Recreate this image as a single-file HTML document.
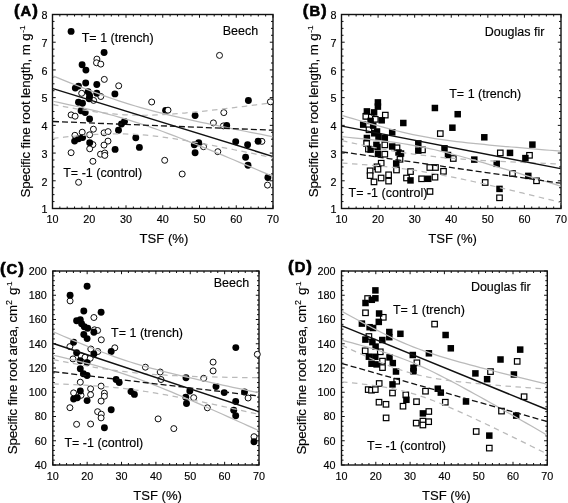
<!DOCTYPE html>
<html><head><meta charset="utf-8"><style>
html,body{margin:0;padding:0;background:#fff;}
svg{display:block;filter:blur(0.3px);}
text{font-family:"Liberation Sans", sans-serif;fill:#000;stroke:#000;stroke-width:0.15px;}
</style></head><body>
<svg width="568" height="503" viewBox="0 0 568 503">
<rect width="568" height="503" fill="#fff"/>
<path d="M52.5 208.5v-3.2M52.5 14.5v3.2M59.85 208.5v-2M59.85 14.5v2M67.2 208.5v-2M67.2 14.5v2M74.55 208.5v-2M74.55 14.5v2M81.9 208.5v-2M81.9 14.5v2M89.25 208.5v-3.2M89.25 14.5v3.2M96.6 208.5v-2M96.6 14.5v2M103.95 208.5v-2M103.95 14.5v2M111.3 208.5v-2M111.3 14.5v2M118.65 208.5v-2M118.65 14.5v2M126 208.5v-3.2M126 14.5v3.2M133.35 208.5v-2M133.35 14.5v2M140.7 208.5v-2M140.7 14.5v2M148.05 208.5v-2M148.05 14.5v2M155.4 208.5v-2M155.4 14.5v2M162.75 208.5v-3.2M162.75 14.5v3.2M170.1 208.5v-2M170.1 14.5v2M177.45 208.5v-2M177.45 14.5v2M184.8 208.5v-2M184.8 14.5v2M192.15 208.5v-2M192.15 14.5v2M199.5 208.5v-3.2M199.5 14.5v3.2M206.85 208.5v-2M206.85 14.5v2M214.2 208.5v-2M214.2 14.5v2M221.55 208.5v-2M221.55 14.5v2M228.9 208.5v-2M228.9 14.5v2M236.25 208.5v-3.2M236.25 14.5v3.2M243.6 208.5v-2M243.6 14.5v2M250.95 208.5v-2M250.95 14.5v2M258.3 208.5v-2M258.3 14.5v2M265.65 208.5v-2M265.65 14.5v2M273 208.5v-3.2M273 14.5v3.2M52.5 208.5h3.2M273 208.5h-3.2M52.5 201.57h2M273 201.57h-2M52.5 194.64h2M273 194.64h-2M52.5 187.71h2M273 187.71h-2M52.5 180.79h3.2M273 180.79h-3.2M52.5 173.86h2M273 173.86h-2M52.5 166.93h2M273 166.93h-2M52.5 160h2M273 160h-2M52.5 153.07h3.2M273 153.07h-3.2M52.5 146.14h2M273 146.14h-2M52.5 139.21h2M273 139.21h-2M52.5 132.29h2M273 132.29h-2M52.5 125.36h3.2M273 125.36h-3.2M52.5 118.43h2M273 118.43h-2M52.5 111.5h2M273 111.5h-2M52.5 104.57h2M273 104.57h-2M52.5 97.64h3.2M273 97.64h-3.2M52.5 90.71h2M273 90.71h-2M52.5 83.79h2M273 83.79h-2M52.5 76.86h2M273 76.86h-2M52.5 69.93h3.2M273 69.93h-3.2M52.5 63h2M273 63h-2M52.5 56.07h2M273 56.07h-2M52.5 49.14h2M273 49.14h-2M52.5 42.21h3.2M273 42.21h-3.2M52.5 35.29h2M273 35.29h-2M52.5 28.36h2M273 28.36h-2M52.5 21.43h2M273 21.43h-2M52.5 14.5h3.2M273 14.5h-3.2" stroke="#111" stroke-width="1" fill="none"/>
<rect x="52.5" y="14.5" width="220.5" height="194" fill="none" stroke="#111" stroke-width="1.4"/>
<text x="52.5" y="223.1" font-size="10.8" text-anchor="middle">10</text>
<text x="89.25" y="223.1" font-size="10.8" text-anchor="middle">20</text>
<text x="126" y="223.1" font-size="10.8" text-anchor="middle">30</text>
<text x="162.75" y="223.1" font-size="10.8" text-anchor="middle">40</text>
<text x="199.5" y="223.1" font-size="10.8" text-anchor="middle">50</text>
<text x="236.25" y="223.1" font-size="10.8" text-anchor="middle">60</text>
<text x="273" y="223.1" font-size="10.8" text-anchor="middle">70</text>
<text x="47.4" y="213.3" font-size="10.8" text-anchor="end">1</text>
<text x="47.4" y="185.59" font-size="10.8" text-anchor="end">2</text>
<text x="47.4" y="157.87" font-size="10.8" text-anchor="end">3</text>
<text x="47.4" y="130.16" font-size="10.8" text-anchor="end">4</text>
<text x="47.4" y="102.44" font-size="10.8" text-anchor="end">5</text>
<text x="47.4" y="74.73" font-size="10.8" text-anchor="end">6</text>
<text x="47.4" y="47.01" font-size="10.8" text-anchor="end">7</text>
<text x="47.4" y="19.3" font-size="10.8" text-anchor="end">8</text>
<path d="M341.5 208.5v-3.2M341.5 14.5v3.2M348.82 208.5v-2M348.82 14.5v2M356.13 208.5v-2M356.13 14.5v2M363.45 208.5v-2M363.45 14.5v2M370.77 208.5v-2M370.77 14.5v2M378.08 208.5v-3.2M378.08 14.5v3.2M385.4 208.5v-2M385.4 14.5v2M392.72 208.5v-2M392.72 14.5v2M400.03 208.5v-2M400.03 14.5v2M407.35 208.5v-2M407.35 14.5v2M414.67 208.5v-3.2M414.67 14.5v3.2M421.98 208.5v-2M421.98 14.5v2M429.3 208.5v-2M429.3 14.5v2M436.62 208.5v-2M436.62 14.5v2M443.93 208.5v-2M443.93 14.5v2M451.25 208.5v-3.2M451.25 14.5v3.2M458.57 208.5v-2M458.57 14.5v2M465.88 208.5v-2M465.88 14.5v2M473.2 208.5v-2M473.2 14.5v2M480.52 208.5v-2M480.52 14.5v2M487.83 208.5v-3.2M487.83 14.5v3.2M495.15 208.5v-2M495.15 14.5v2M502.47 208.5v-2M502.47 14.5v2M509.78 208.5v-2M509.78 14.5v2M517.1 208.5v-2M517.1 14.5v2M524.42 208.5v-3.2M524.42 14.5v3.2M531.73 208.5v-2M531.73 14.5v2M539.05 208.5v-2M539.05 14.5v2M546.37 208.5v-2M546.37 14.5v2M553.68 208.5v-2M553.68 14.5v2M561 208.5v-3.2M561 14.5v3.2M341.5 208.5h3.2M561 208.5h-3.2M341.5 201.57h2M561 201.57h-2M341.5 194.64h2M561 194.64h-2M341.5 187.71h2M561 187.71h-2M341.5 180.79h3.2M561 180.79h-3.2M341.5 173.86h2M561 173.86h-2M341.5 166.93h2M561 166.93h-2M341.5 160h2M561 160h-2M341.5 153.07h3.2M561 153.07h-3.2M341.5 146.14h2M561 146.14h-2M341.5 139.21h2M561 139.21h-2M341.5 132.29h2M561 132.29h-2M341.5 125.36h3.2M561 125.36h-3.2M341.5 118.43h2M561 118.43h-2M341.5 111.5h2M561 111.5h-2M341.5 104.57h2M561 104.57h-2M341.5 97.64h3.2M561 97.64h-3.2M341.5 90.71h2M561 90.71h-2M341.5 83.79h2M561 83.79h-2M341.5 76.86h2M561 76.86h-2M341.5 69.93h3.2M561 69.93h-3.2M341.5 63h2M561 63h-2M341.5 56.07h2M561 56.07h-2M341.5 49.14h2M561 49.14h-2M341.5 42.21h3.2M561 42.21h-3.2M341.5 35.29h2M561 35.29h-2M341.5 28.36h2M561 28.36h-2M341.5 21.43h2M561 21.43h-2M341.5 14.5h3.2M561 14.5h-3.2" stroke="#111" stroke-width="1" fill="none"/>
<rect x="341.5" y="14.5" width="219.5" height="194" fill="none" stroke="#111" stroke-width="1.4"/>
<text x="341.5" y="223.1" font-size="10.8" text-anchor="middle">10</text>
<text x="378.08" y="223.1" font-size="10.8" text-anchor="middle">20</text>
<text x="414.67" y="223.1" font-size="10.8" text-anchor="middle">30</text>
<text x="451.25" y="223.1" font-size="10.8" text-anchor="middle">40</text>
<text x="487.83" y="223.1" font-size="10.8" text-anchor="middle">50</text>
<text x="524.42" y="223.1" font-size="10.8" text-anchor="middle">60</text>
<text x="561" y="223.1" font-size="10.8" text-anchor="middle">70</text>
<text x="336.4" y="213.3" font-size="10.8" text-anchor="end">1</text>
<text x="336.4" y="185.59" font-size="10.8" text-anchor="end">2</text>
<text x="336.4" y="157.87" font-size="10.8" text-anchor="end">3</text>
<text x="336.4" y="130.16" font-size="10.8" text-anchor="end">4</text>
<text x="336.4" y="102.44" font-size="10.8" text-anchor="end">5</text>
<text x="336.4" y="74.73" font-size="10.8" text-anchor="end">6</text>
<text x="336.4" y="47.01" font-size="10.8" text-anchor="end">7</text>
<text x="336.4" y="19.3" font-size="10.8" text-anchor="end">8</text>
<path d="M52.8 465v-3.2M52.8 271v3.2M59.67 465v-2M59.67 271v2M66.55 465v-2M66.55 271v2M73.42 465v-2M73.42 271v2M80.29 465v-2M80.29 271v2M87.17 465v-3.2M87.17 271v3.2M94.04 465v-2M94.04 271v2M100.91 465v-2M100.91 271v2M107.79 465v-2M107.79 271v2M114.66 465v-2M114.66 271v2M121.53 465v-3.2M121.53 271v3.2M128.41 465v-2M128.41 271v2M135.28 465v-2M135.28 271v2M142.15 465v-2M142.15 271v2M149.03 465v-2M149.03 271v2M155.9 465v-3.2M155.9 271v3.2M162.77 465v-2M162.77 271v2M169.65 465v-2M169.65 271v2M176.52 465v-2M176.52 271v2M183.39 465v-2M183.39 271v2M190.27 465v-3.2M190.27 271v3.2M197.14 465v-2M197.14 271v2M204.01 465v-2M204.01 271v2M210.89 465v-2M210.89 271v2M217.76 465v-2M217.76 271v2M224.63 465v-3.2M224.63 271v3.2M231.51 465v-2M231.51 271v2M238.38 465v-2M238.38 271v2M245.25 465v-2M245.25 271v2M252.13 465v-2M252.13 271v2M259 465v-3.2M259 271v3.2M52.8 465h3.2M259 465h-3.2M52.8 460.15h2M259 460.15h-2M52.8 455.3h2M259 455.3h-2M52.8 450.45h2M259 450.45h-2M52.8 445.6h2M259 445.6h-2M52.8 440.75h3.2M259 440.75h-3.2M52.8 435.9h2M259 435.9h-2M52.8 431.05h2M259 431.05h-2M52.8 426.2h2M259 426.2h-2M52.8 421.35h2M259 421.35h-2M52.8 416.5h3.2M259 416.5h-3.2M52.8 411.65h2M259 411.65h-2M52.8 406.8h2M259 406.8h-2M52.8 401.95h2M259 401.95h-2M52.8 397.1h2M259 397.1h-2M52.8 392.25h3.2M259 392.25h-3.2M52.8 387.4h2M259 387.4h-2M52.8 382.55h2M259 382.55h-2M52.8 377.7h2M259 377.7h-2M52.8 372.85h2M259 372.85h-2M52.8 368h3.2M259 368h-3.2M52.8 363.15h2M259 363.15h-2M52.8 358.3h2M259 358.3h-2M52.8 353.45h2M259 353.45h-2M52.8 348.6h2M259 348.6h-2M52.8 343.75h3.2M259 343.75h-3.2M52.8 338.9h2M259 338.9h-2M52.8 334.05h2M259 334.05h-2M52.8 329.2h2M259 329.2h-2M52.8 324.35h2M259 324.35h-2M52.8 319.5h3.2M259 319.5h-3.2M52.8 314.65h2M259 314.65h-2M52.8 309.8h2M259 309.8h-2M52.8 304.95h2M259 304.95h-2M52.8 300.1h2M259 300.1h-2M52.8 295.25h3.2M259 295.25h-3.2M52.8 290.4h2M259 290.4h-2M52.8 285.55h2M259 285.55h-2M52.8 280.7h2M259 280.7h-2M52.8 275.85h2M259 275.85h-2M52.8 271h3.2M259 271h-3.2" stroke="#111" stroke-width="1" fill="none"/>
<rect x="52.8" y="271" width="206.2" height="194" fill="none" stroke="#111" stroke-width="1.4"/>
<text x="52.8" y="479.6" font-size="10.8" text-anchor="middle">10</text>
<text x="87.17" y="479.6" font-size="10.8" text-anchor="middle">20</text>
<text x="121.53" y="479.6" font-size="10.8" text-anchor="middle">30</text>
<text x="155.9" y="479.6" font-size="10.8" text-anchor="middle">40</text>
<text x="190.27" y="479.6" font-size="10.8" text-anchor="middle">50</text>
<text x="224.63" y="479.6" font-size="10.8" text-anchor="middle">60</text>
<text x="259" y="479.6" font-size="10.8" text-anchor="middle">70</text>
<text x="46.8" y="468.9" font-size="10.8" text-anchor="end">40</text>
<text x="46.8" y="444.65" font-size="10.8" text-anchor="end">60</text>
<text x="46.8" y="420.4" font-size="10.8" text-anchor="end">80</text>
<text x="46.8" y="396.15" font-size="10.8" text-anchor="end">100</text>
<text x="46.8" y="371.9" font-size="10.8" text-anchor="end">120</text>
<text x="46.8" y="347.65" font-size="10.8" text-anchor="end">140</text>
<text x="46.8" y="323.4" font-size="10.8" text-anchor="end">160</text>
<text x="46.8" y="299.15" font-size="10.8" text-anchor="end">180</text>
<text x="46.8" y="274.9" font-size="10.8" text-anchor="end">200</text>
<path d="M341.5 465v-3.2M341.5 271v3.2M348.36 465v-2M348.36 271v2M355.22 465v-2M355.22 271v2M362.08 465v-2M362.08 271v2M368.94 465v-2M368.94 271v2M375.8 465v-3.2M375.8 271v3.2M382.66 465v-2M382.66 271v2M389.52 465v-2M389.52 271v2M396.38 465v-2M396.38 271v2M403.24 465v-2M403.24 271v2M410.1 465v-3.2M410.1 271v3.2M416.96 465v-2M416.96 271v2M423.82 465v-2M423.82 271v2M430.68 465v-2M430.68 271v2M437.54 465v-2M437.54 271v2M444.4 465v-3.2M444.4 271v3.2M451.26 465v-2M451.26 271v2M458.12 465v-2M458.12 271v2M464.98 465v-2M464.98 271v2M471.84 465v-2M471.84 271v2M478.7 465v-3.2M478.7 271v3.2M485.56 465v-2M485.56 271v2M492.42 465v-2M492.42 271v2M499.28 465v-2M499.28 271v2M506.14 465v-2M506.14 271v2M513 465v-3.2M513 271v3.2M519.86 465v-2M519.86 271v2M526.72 465v-2M526.72 271v2M533.58 465v-2M533.58 271v2M540.44 465v-2M540.44 271v2M547.3 465v-3.2M547.3 271v3.2M341.5 465h3.2M547.3 465h-3.2M341.5 460.15h2M547.3 460.15h-2M341.5 455.3h2M547.3 455.3h-2M341.5 450.45h2M547.3 450.45h-2M341.5 445.6h2M547.3 445.6h-2M341.5 440.75h3.2M547.3 440.75h-3.2M341.5 435.9h2M547.3 435.9h-2M341.5 431.05h2M547.3 431.05h-2M341.5 426.2h2M547.3 426.2h-2M341.5 421.35h2M547.3 421.35h-2M341.5 416.5h3.2M547.3 416.5h-3.2M341.5 411.65h2M547.3 411.65h-2M341.5 406.8h2M547.3 406.8h-2M341.5 401.95h2M547.3 401.95h-2M341.5 397.1h2M547.3 397.1h-2M341.5 392.25h3.2M547.3 392.25h-3.2M341.5 387.4h2M547.3 387.4h-2M341.5 382.55h2M547.3 382.55h-2M341.5 377.7h2M547.3 377.7h-2M341.5 372.85h2M547.3 372.85h-2M341.5 368h3.2M547.3 368h-3.2M341.5 363.15h2M547.3 363.15h-2M341.5 358.3h2M547.3 358.3h-2M341.5 353.45h2M547.3 353.45h-2M341.5 348.6h2M547.3 348.6h-2M341.5 343.75h3.2M547.3 343.75h-3.2M341.5 338.9h2M547.3 338.9h-2M341.5 334.05h2M547.3 334.05h-2M341.5 329.2h2M547.3 329.2h-2M341.5 324.35h2M547.3 324.35h-2M341.5 319.5h3.2M547.3 319.5h-3.2M341.5 314.65h2M547.3 314.65h-2M341.5 309.8h2M547.3 309.8h-2M341.5 304.95h2M547.3 304.95h-2M341.5 300.1h2M547.3 300.1h-2M341.5 295.25h3.2M547.3 295.25h-3.2M341.5 290.4h2M547.3 290.4h-2M341.5 285.55h2M547.3 285.55h-2M341.5 280.7h2M547.3 280.7h-2M341.5 275.85h2M547.3 275.85h-2M341.5 271h3.2M547.3 271h-3.2" stroke="#111" stroke-width="1" fill="none"/>
<rect x="341.5" y="271" width="205.8" height="194" fill="none" stroke="#111" stroke-width="1.4"/>
<text x="341.5" y="479.6" font-size="10.8" text-anchor="middle">10</text>
<text x="375.8" y="479.6" font-size="10.8" text-anchor="middle">20</text>
<text x="410.1" y="479.6" font-size="10.8" text-anchor="middle">30</text>
<text x="444.4" y="479.6" font-size="10.8" text-anchor="middle">40</text>
<text x="478.7" y="479.6" font-size="10.8" text-anchor="middle">50</text>
<text x="513" y="479.6" font-size="10.8" text-anchor="middle">60</text>
<text x="547.3" y="479.6" font-size="10.8" text-anchor="middle">70</text>
<text x="335.5" y="468.9" font-size="10.8" text-anchor="end">40</text>
<text x="335.5" y="444.65" font-size="10.8" text-anchor="end">60</text>
<text x="335.5" y="420.4" font-size="10.8" text-anchor="end">80</text>
<text x="335.5" y="396.15" font-size="10.8" text-anchor="end">100</text>
<text x="335.5" y="371.9" font-size="10.8" text-anchor="end">120</text>
<text x="335.5" y="347.65" font-size="10.8" text-anchor="end">140</text>
<text x="335.5" y="323.4" font-size="10.8" text-anchor="end">160</text>
<text x="335.5" y="299.15" font-size="10.8" text-anchor="end">180</text>
<text x="335.5" y="274.9" font-size="10.8" text-anchor="end">200</text>
<text x="14.03" y="16.1" font-size="14.8" font-weight="bold" letter-spacing="0.9" style="stroke-width:0.6px"><tspan font-size="17">(</tspan>A<tspan font-size="17">)</tspan></text>
<text x="302.82" y="16.1" font-size="14.8" font-weight="bold" letter-spacing="0.9" style="stroke-width:0.6px"><tspan font-size="17">(</tspan>B<tspan font-size="17">)</tspan></text>
<text x="-0.03" y="274.4" font-size="14.8" font-weight="bold" letter-spacing="0.9" style="stroke-width:0.6px"><tspan font-size="17">(</tspan>C<tspan font-size="17">)</tspan></text>
<text x="288.12" y="271.5" font-size="14.8" font-weight="bold" letter-spacing="0.9" style="stroke-width:0.6px"><tspan font-size="17">(</tspan>D<tspan font-size="17">)</tspan></text>
<text x="81.72" y="42.1" font-size="12.5">T= 1 (trench)</text>
<text x="449.22" y="97.8" font-size="12.5">T= 1 (trench)</text>
<text x="111.12" y="336.9" font-size="12.5">T= 1 (trench)</text>
<text x="392.92" y="313.7" font-size="12.5">T= 1 (trench)</text>
<text x="63.22" y="176.5" font-size="12.5">T= -1 (control)</text>
<text x="348.52" y="197.1" font-size="12.5">T= -1 (control)</text>
<text x="64.42" y="446.5" font-size="12.5">T= -1 (control)</text>
<text x="367.12" y="450.1" font-size="12.5">T= -1 (control)</text>
<text x="222.67" y="34.5" font-size="12.5">Beech</text>
<text x="213.78" y="287.4" font-size="12.5">Beech</text>
<text x="484.68" y="35.5" font-size="12.5">Douglas fir</text>
<text x="470.88" y="290.6" font-size="12.5">Douglas fir</text>
<text x="139.61" y="242.8" font-size="13.1">TSF (%)</text>
<text x="428.21" y="242.6" font-size="13.1">TSF (%)</text>
<text x="133.21" y="499.9" font-size="13.1">TSF (%)</text>
<text x="421.91" y="499.9" font-size="13.1">TSF (%)</text>
<text transform="translate(30.3 197.6) rotate(-90)" font-size="13.4" textLength="164.3" lengthAdjust="spacing">Specific fine root length, m g</text>
<text transform="translate(24.7 25.6) rotate(-90)" font-size="8" text-anchor="end">-1</text>
<text transform="translate(318.2 197.2) rotate(-90)" font-size="13.4" textLength="163.9" lengthAdjust="spacing">Specific fine root length, m g</text>
<text transform="translate(312.6 25.6) rotate(-90)" font-size="8" text-anchor="end">-1</text>
<text transform="translate(17.2 454.2) rotate(-90)" font-size="13.4" textLength="149.3" lengthAdjust="spacing">Specific fine root area, cm</text>
<text transform="translate(12.2 305) rotate(-90)" font-size="9">2</text>
<text transform="translate(17.2 295) rotate(-90)" font-size="13.4">g</text>
<text transform="translate(11.6 281.6) rotate(-90)" font-size="8" text-anchor="end">-1</text>
<text transform="translate(306.4 454.6) rotate(-90)" font-size="13.4" textLength="149.7" lengthAdjust="spacing">Specific fine root area, cm</text>
<text transform="translate(301.4 305) rotate(-90)" font-size="9">2</text>
<text transform="translate(306.4 295) rotate(-90)" font-size="13.4">g</text>
<text transform="translate(300.8 281.6) rotate(-90)" font-size="8" text-anchor="end">-1</text>
<circle cx="165.6" cy="110.4" r="3.45" fill="#000"/>
<circle cx="96.9" cy="59.1" r="3" fill="#fff" stroke="#000" stroke-width="0.95"/>
<circle cx="96.5" cy="62.8" r="3" fill="#fff" stroke="#000" stroke-width="0.95"/>
<circle cx="100.8" cy="64.1" r="3" fill="#fff" stroke="#000" stroke-width="0.95"/>
<circle cx="104.3" cy="79.4" r="3" fill="#fff" stroke="#000" stroke-width="0.95"/>
<circle cx="118.7" cy="85.8" r="3" fill="#fff" stroke="#000" stroke-width="0.95"/>
<circle cx="81.7" cy="93.3" r="3" fill="#fff" stroke="#000" stroke-width="0.95"/>
<circle cx="100.8" cy="96.5" r="3" fill="#fff" stroke="#000" stroke-width="0.95"/>
<circle cx="93.6" cy="100.4" r="3" fill="#fff" stroke="#000" stroke-width="0.95"/>
<circle cx="71.1" cy="114.9" r="3" fill="#fff" stroke="#000" stroke-width="0.95"/>
<circle cx="75.1" cy="116.2" r="3" fill="#fff" stroke="#000" stroke-width="0.95"/>
<circle cx="93.4" cy="129.2" r="3" fill="#fff" stroke="#000" stroke-width="0.95"/>
<circle cx="82.2" cy="132.2" r="3" fill="#fff" stroke="#000" stroke-width="0.95"/>
<circle cx="74.9" cy="135.3" r="3" fill="#fff" stroke="#000" stroke-width="0.95"/>
<circle cx="89.6" cy="134.8" r="3" fill="#fff" stroke="#000" stroke-width="0.95"/>
<circle cx="104.1" cy="132.8" r="3" fill="#fff" stroke="#000" stroke-width="0.95"/>
<circle cx="108.1" cy="131.6" r="3" fill="#fff" stroke="#000" stroke-width="0.95"/>
<circle cx="92.9" cy="144.6" r="3" fill="#fff" stroke="#000" stroke-width="0.95"/>
<circle cx="89.7" cy="148.8" r="3" fill="#fff" stroke="#000" stroke-width="0.95"/>
<circle cx="108" cy="141.1" r="3" fill="#fff" stroke="#000" stroke-width="0.95"/>
<circle cx="104" cy="145.1" r="3" fill="#fff" stroke="#000" stroke-width="0.95"/>
<circle cx="71.1" cy="152.7" r="3" fill="#fff" stroke="#000" stroke-width="0.95"/>
<circle cx="100.5" cy="154.2" r="3" fill="#fff" stroke="#000" stroke-width="0.95"/>
<circle cx="104.8" cy="153" r="3" fill="#fff" stroke="#000" stroke-width="0.95"/>
<circle cx="104.8" cy="155.4" r="3" fill="#fff" stroke="#000" stroke-width="0.95"/>
<circle cx="92.9" cy="161.3" r="3" fill="#fff" stroke="#000" stroke-width="0.95"/>
<circle cx="78.6" cy="182.3" r="3" fill="#fff" stroke="#000" stroke-width="0.95"/>
<circle cx="151.7" cy="102" r="3" fill="#fff" stroke="#000" stroke-width="0.95"/>
<circle cx="168" cy="110.2" r="3" fill="#fff" stroke="#000" stroke-width="0.95"/>
<circle cx="164.7" cy="160.3" r="3" fill="#fff" stroke="#000" stroke-width="0.95"/>
<circle cx="182.2" cy="174" r="3" fill="#fff" stroke="#000" stroke-width="0.95"/>
<circle cx="219.5" cy="55.4" r="3" fill="#fff" stroke="#000" stroke-width="0.95"/>
<circle cx="270.4" cy="101.8" r="3" fill="#fff" stroke="#000" stroke-width="0.95"/>
<circle cx="223.8" cy="112.6" r="3" fill="#fff" stroke="#000" stroke-width="0.95"/>
<circle cx="213.4" cy="122.9" r="3" fill="#fff" stroke="#000" stroke-width="0.95"/>
<circle cx="223.4" cy="125.9" r="3" fill="#fff" stroke="#000" stroke-width="0.95"/>
<circle cx="203.5" cy="146.7" r="3" fill="#fff" stroke="#000" stroke-width="0.95"/>
<circle cx="217.8" cy="151.7" r="3" fill="#fff" stroke="#000" stroke-width="0.95"/>
<circle cx="261.9" cy="141.4" r="3" fill="#fff" stroke="#000" stroke-width="0.95"/>
<circle cx="267.5" cy="185.1" r="3" fill="#fff" stroke="#000" stroke-width="0.95"/>
<circle cx="71.1" cy="31.4" r="3.45" fill="#000"/>
<circle cx="104.1" cy="52.5" r="3.45" fill="#000"/>
<circle cx="82.1" cy="64.8" r="3.45" fill="#000"/>
<circle cx="85.9" cy="70.1" r="3.45" fill="#000"/>
<circle cx="85.7" cy="83" r="3.45" fill="#000"/>
<circle cx="96.8" cy="84.5" r="3.45" fill="#000"/>
<circle cx="75.3" cy="88.1" r="3.45" fill="#000"/>
<circle cx="78.5" cy="86.1" r="3.45" fill="#000"/>
<circle cx="88.1" cy="91.7" r="3.45" fill="#000"/>
<circle cx="89.6" cy="95.7" r="3.45" fill="#000"/>
<circle cx="89.2" cy="98.8" r="3.45" fill="#000"/>
<circle cx="96.8" cy="93.3" r="3.45" fill="#000"/>
<circle cx="78.5" cy="102.2" r="3.45" fill="#000"/>
<circle cx="82.5" cy="103.2" r="3.45" fill="#000"/>
<circle cx="81.1" cy="110.8" r="3.45" fill="#000"/>
<circle cx="85.2" cy="112.6" r="3.45" fill="#000"/>
<circle cx="89.6" cy="118.9" r="3.45" fill="#000"/>
<circle cx="114.9" cy="93.9" r="3.45" fill="#000"/>
<circle cx="121.5" cy="124" r="3.45" fill="#000"/>
<circle cx="124.5" cy="121.5" r="3.45" fill="#000"/>
<circle cx="118.5" cy="130.3" r="3.45" fill="#000"/>
<circle cx="74.6" cy="141.1" r="3.45" fill="#000"/>
<circle cx="78.6" cy="138.7" r="3.45" fill="#000"/>
<circle cx="82.6" cy="137.6" r="3.45" fill="#000"/>
<circle cx="89.7" cy="142.7" r="3.45" fill="#000"/>
<circle cx="115.1" cy="149.4" r="3.45" fill="#000"/>
<circle cx="135.8" cy="137.8" r="3.45" fill="#000"/>
<circle cx="139.4" cy="147.4" r="3.45" fill="#000"/>
<circle cx="195.1" cy="115.6" r="3.45" fill="#000"/>
<circle cx="194.3" cy="144.8" r="3.45" fill="#000"/>
<circle cx="198.7" cy="142.8" r="3.45" fill="#000"/>
<circle cx="195.1" cy="152.7" r="3.45" fill="#000"/>
<circle cx="248.4" cy="100.5" r="3.45" fill="#000"/>
<circle cx="226.7" cy="125.5" r="3.45" fill="#000"/>
<circle cx="235.7" cy="141.8" r="3.45" fill="#000"/>
<circle cx="247.6" cy="144.8" r="3.45" fill="#000"/>
<circle cx="258.1" cy="141.2" r="3.45" fill="#000"/>
<circle cx="245.6" cy="157.3" r="3.45" fill="#000"/>
<circle cx="248" cy="165.2" r="3.45" fill="#000"/>
<circle cx="267.9" cy="177.5" r="3.45" fill="#000"/>
<rect x="382.55" y="112.35" width="5.5" height="5.5" fill="#fff" stroke="#000" stroke-width="1.2"/>
<rect x="364.15" y="113.35" width="5.5" height="5.5" fill="#fff" stroke="#000" stroke-width="1.2"/>
<rect x="368.35" y="114.45" width="5.5" height="5.5" fill="#fff" stroke="#000" stroke-width="1.2"/>
<rect x="372.55" y="116.55" width="5.5" height="5.5" fill="#fff" stroke="#000" stroke-width="1.2"/>
<rect x="366.25" y="127.05" width="5.5" height="5.5" fill="#fff" stroke="#000" stroke-width="1.2"/>
<rect x="363.85" y="140.75" width="5.5" height="5.5" fill="#fff" stroke="#000" stroke-width="1.2"/>
<rect x="382.05" y="142.15" width="5.5" height="5.5" fill="#fff" stroke="#000" stroke-width="1.2"/>
<rect x="394.25" y="145.05" width="5.5" height="5.5" fill="#fff" stroke="#000" stroke-width="1.2"/>
<rect x="382.05" y="151.45" width="5.5" height="5.5" fill="#fff" stroke="#000" stroke-width="1.2"/>
<rect x="397.25" y="156.55" width="5.5" height="5.5" fill="#fff" stroke="#000" stroke-width="1.2"/>
<rect x="378.45" y="160.45" width="5.5" height="5.5" fill="#fff" stroke="#000" stroke-width="1.2"/>
<rect x="374.25" y="164.05" width="5.5" height="5.5" fill="#fff" stroke="#000" stroke-width="1.2"/>
<rect x="375.25" y="166.55" width="5.5" height="5.5" fill="#fff" stroke="#000" stroke-width="1.2"/>
<rect x="367.35" y="168.05" width="5.5" height="5.5" fill="#fff" stroke="#000" stroke-width="1.2"/>
<rect x="367.35" y="172.85" width="5.5" height="5.5" fill="#fff" stroke="#000" stroke-width="1.2"/>
<rect x="371.25" y="179.15" width="5.5" height="5.5" fill="#fff" stroke="#000" stroke-width="1.2"/>
<rect x="378.35" y="175.25" width="5.5" height="5.5" fill="#fff" stroke="#000" stroke-width="1.2"/>
<rect x="385.85" y="172.05" width="5.5" height="5.5" fill="#fff" stroke="#000" stroke-width="1.2"/>
<rect x="385.85" y="178.35" width="5.5" height="5.5" fill="#fff" stroke="#000" stroke-width="1.2"/>
<rect x="393.75" y="167.25" width="5.5" height="5.5" fill="#fff" stroke="#000" stroke-width="1.2"/>
<rect x="407.75" y="168.85" width="5.5" height="5.5" fill="#fff" stroke="#000" stroke-width="1.2"/>
<rect x="403.75" y="175.25" width="5.5" height="5.5" fill="#fff" stroke="#000" stroke-width="1.2"/>
<rect x="418.85" y="176.05" width="5.5" height="5.5" fill="#fff" stroke="#000" stroke-width="1.2"/>
<rect x="432.25" y="174.45" width="5.5" height="5.5" fill="#fff" stroke="#000" stroke-width="1.2"/>
<rect x="427.05" y="164.75" width="5.5" height="5.5" fill="#fff" stroke="#000" stroke-width="1.2"/>
<rect x="432.75" y="164.75" width="5.5" height="5.5" fill="#fff" stroke="#000" stroke-width="1.2"/>
<rect x="440.75" y="168.55" width="5.5" height="5.5" fill="#fff" stroke="#000" stroke-width="1.2"/>
<rect x="427.25" y="188.75" width="5.5" height="5.5" fill="#fff" stroke="#000" stroke-width="1.2"/>
<rect x="437.55" y="130.85" width="5.5" height="5.5" fill="#fff" stroke="#000" stroke-width="1.2"/>
<rect x="419.75" y="147.15" width="5.5" height="5.5" fill="#fff" stroke="#000" stroke-width="1.2"/>
<rect x="450.55" y="155.75" width="5.5" height="5.5" fill="#fff" stroke="#000" stroke-width="1.2"/>
<rect x="482.45" y="179.75" width="5.5" height="5.5" fill="#fff" stroke="#000" stroke-width="1.2"/>
<rect x="365.65" y="146.35" width="5.5" height="5.5" fill="#fff" stroke="#000" stroke-width="1.2"/>
<rect x="363.05" y="113.55" width="5.5" height="5.5" fill="#fff" stroke="#000" stroke-width="1.2"/>
<rect x="497.55" y="150.15" width="5.5" height="5.5" fill="#fff" stroke="#000" stroke-width="1.2"/>
<rect x="526.75" y="152.55" width="5.5" height="5.5" fill="#fff" stroke="#000" stroke-width="1.2"/>
<rect x="509.75" y="170.75" width="5.5" height="5.5" fill="#fff" stroke="#000" stroke-width="1.2"/>
<rect x="533.75" y="178.05" width="5.5" height="5.5" fill="#fff" stroke="#000" stroke-width="1.2"/>
<rect x="496.75" y="195.05" width="5.5" height="5.5" fill="#fff" stroke="#000" stroke-width="1.2"/>
<rect x="374.65" y="99.15" width="6.5" height="6.5" fill="#000"/>
<rect x="374.65" y="103.35" width="6.5" height="6.5" fill="#000"/>
<rect x="363.65" y="108.15" width="6.5" height="6.5" fill="#000"/>
<rect x="370.85" y="109.15" width="6.5" height="6.5" fill="#000"/>
<rect x="378.45" y="117.05" width="6.5" height="6.5" fill="#000"/>
<rect x="367.35" y="117.65" width="6.5" height="6.5" fill="#000"/>
<rect x="359.95" y="121.35" width="6.5" height="6.5" fill="#000"/>
<rect x="369.95" y="122.35" width="6.5" height="6.5" fill="#000"/>
<rect x="400.05" y="119.75" width="6.5" height="6.5" fill="#000"/>
<rect x="371.05" y="130.05" width="6.5" height="6.5" fill="#000"/>
<rect x="375.25" y="133.75" width="6.5" height="6.5" fill="#000"/>
<rect x="388.95" y="129.05" width="6.5" height="6.5" fill="#000"/>
<rect x="381.55" y="134.75" width="6.5" height="6.5" fill="#000"/>
<rect x="363.65" y="134.75" width="6.5" height="6.5" fill="#000"/>
<rect x="373.15" y="141.65" width="6.5" height="6.5" fill="#000"/>
<rect x="367.35" y="146.35" width="6.5" height="6.5" fill="#000"/>
<rect x="388.95" y="143.25" width="6.5" height="6.5" fill="#000"/>
<rect x="395.25" y="149.25" width="6.5" height="6.5" fill="#000"/>
<rect x="374.75" y="150.65" width="6.5" height="6.5" fill="#000"/>
<rect x="392.95" y="160.25" width="6.5" height="6.5" fill="#000"/>
<rect x="373.75" y="128.25" width="6.5" height="6.5" fill="#000"/>
<rect x="374.25" y="143.75" width="6.5" height="6.5" fill="#000"/>
<rect x="397.75" y="150.25" width="6.5" height="6.5" fill="#000"/>
<rect x="415.05" y="140.15" width="6.5" height="6.5" fill="#000"/>
<rect x="415.05" y="147.35" width="6.5" height="6.5" fill="#000"/>
<rect x="407.25" y="177.15" width="6.5" height="6.5" fill="#000"/>
<rect x="424.95" y="175.55" width="6.5" height="6.5" fill="#000"/>
<rect x="431.65" y="104.75" width="6.5" height="6.5" fill="#000"/>
<rect x="454.45" y="110.95" width="6.5" height="6.5" fill="#000"/>
<rect x="449.15" y="124.45" width="6.5" height="6.5" fill="#000"/>
<rect x="441.25" y="145.05" width="6.5" height="6.5" fill="#000"/>
<rect x="444.75" y="151.75" width="6.5" height="6.5" fill="#000"/>
<rect x="471.05" y="156.35" width="6.5" height="6.5" fill="#000"/>
<rect x="481.05" y="134.05" width="6.5" height="6.5" fill="#000"/>
<rect x="529.15" y="141.35" width="6.5" height="6.5" fill="#000"/>
<rect x="506.75" y="149.65" width="6.5" height="6.5" fill="#000"/>
<rect x="522.15" y="154.85" width="6.5" height="6.5" fill="#000"/>
<rect x="493.45" y="160.55" width="6.5" height="6.5" fill="#000"/>
<rect x="525.05" y="172.65" width="6.5" height="6.5" fill="#000"/>
<rect x="496.25" y="185.65" width="6.5" height="6.5" fill="#000"/>
<circle cx="70.1" cy="300.9" r="3" fill="#fff" stroke="#000" stroke-width="0.95"/>
<circle cx="93.9" cy="317.5" r="3" fill="#fff" stroke="#000" stroke-width="0.95"/>
<circle cx="94.5" cy="329.8" r="3" fill="#fff" stroke="#000" stroke-width="0.95"/>
<circle cx="97.6" cy="330.5" r="3" fill="#fff" stroke="#000" stroke-width="0.95"/>
<circle cx="101.3" cy="339.8" r="3" fill="#fff" stroke="#000" stroke-width="0.95"/>
<circle cx="69.9" cy="346.6" r="3" fill="#fff" stroke="#000" stroke-width="0.95"/>
<circle cx="90.8" cy="349" r="3" fill="#fff" stroke="#000" stroke-width="0.95"/>
<circle cx="97.8" cy="351.5" r="3" fill="#fff" stroke="#000" stroke-width="0.95"/>
<circle cx="114.8" cy="347.8" r="3" fill="#fff" stroke="#000" stroke-width="0.95"/>
<circle cx="81" cy="355.8" r="3" fill="#fff" stroke="#000" stroke-width="0.95"/>
<circle cx="85" cy="357.3" r="3" fill="#fff" stroke="#000" stroke-width="0.95"/>
<circle cx="73" cy="358.9" r="3" fill="#fff" stroke="#000" stroke-width="0.95"/>
<circle cx="90.2" cy="358.3" r="3" fill="#fff" stroke="#000" stroke-width="0.95"/>
<circle cx="80.3" cy="382.2" r="3" fill="#fff" stroke="#000" stroke-width="0.95"/>
<circle cx="101.1" cy="386.1" r="3" fill="#fff" stroke="#000" stroke-width="0.95"/>
<circle cx="90.6" cy="388.8" r="3" fill="#fff" stroke="#000" stroke-width="0.95"/>
<circle cx="73.6" cy="392.9" r="3" fill="#fff" stroke="#000" stroke-width="0.95"/>
<circle cx="81" cy="395.3" r="3" fill="#fff" stroke="#000" stroke-width="0.95"/>
<circle cx="90.6" cy="394.7" r="3" fill="#fff" stroke="#000" stroke-width="0.95"/>
<circle cx="104.4" cy="393.2" r="3" fill="#fff" stroke="#000" stroke-width="0.95"/>
<circle cx="104.4" cy="396.2" r="3" fill="#fff" stroke="#000" stroke-width="0.95"/>
<circle cx="101.1" cy="401.1" r="3" fill="#fff" stroke="#000" stroke-width="0.95"/>
<circle cx="69.9" cy="407.7" r="3" fill="#fff" stroke="#000" stroke-width="0.95"/>
<circle cx="97.6" cy="411.7" r="3" fill="#fff" stroke="#000" stroke-width="0.95"/>
<circle cx="101.3" cy="414.2" r="3" fill="#fff" stroke="#000" stroke-width="0.95"/>
<circle cx="101.1" cy="417.9" r="3" fill="#fff" stroke="#000" stroke-width="0.95"/>
<circle cx="76.6" cy="424.3" r="3" fill="#fff" stroke="#000" stroke-width="0.95"/>
<circle cx="90.6" cy="424" r="3" fill="#fff" stroke="#000" stroke-width="0.95"/>
<circle cx="145.4" cy="367.2" r="3" fill="#fff" stroke="#000" stroke-width="0.95"/>
<circle cx="160.2" cy="372" r="3" fill="#fff" stroke="#000" stroke-width="0.95"/>
<circle cx="161" cy="379.5" r="3" fill="#fff" stroke="#000" stroke-width="0.95"/>
<circle cx="158.1" cy="418.9" r="3" fill="#fff" stroke="#000" stroke-width="0.95"/>
<circle cx="173.8" cy="428.6" r="3" fill="#fff" stroke="#000" stroke-width="0.95"/>
<circle cx="193.7" cy="397.7" r="3" fill="#fff" stroke="#000" stroke-width="0.95"/>
<circle cx="213.1" cy="362.1" r="3" fill="#fff" stroke="#000" stroke-width="0.95"/>
<circle cx="213.1" cy="370.9" r="3" fill="#fff" stroke="#000" stroke-width="0.95"/>
<circle cx="203.7" cy="378.3" r="3" fill="#fff" stroke="#000" stroke-width="0.95"/>
<circle cx="207.4" cy="407.8" r="3" fill="#fff" stroke="#000" stroke-width="0.95"/>
<circle cx="248.1" cy="398" r="3" fill="#fff" stroke="#000" stroke-width="0.95"/>
<circle cx="257.3" cy="354.3" r="3" fill="#fff" stroke="#000" stroke-width="0.95"/>
<circle cx="254" cy="436.7" r="3" fill="#fff" stroke="#000" stroke-width="0.95"/>
<circle cx="87.1" cy="286.3" r="3.45" fill="#000"/>
<circle cx="70.1" cy="295.3" r="3.45" fill="#000"/>
<circle cx="83.8" cy="311" r="3.45" fill="#000"/>
<circle cx="101.1" cy="312.2" r="3.45" fill="#000"/>
<circle cx="76.6" cy="320.8" r="3.45" fill="#000"/>
<circle cx="80.3" cy="319.6" r="3.45" fill="#000"/>
<circle cx="81.6" cy="323.7" r="3.45" fill="#000"/>
<circle cx="84.3" cy="326.8" r="3.45" fill="#000"/>
<circle cx="87.7" cy="328.3" r="3.45" fill="#000"/>
<circle cx="93.9" cy="332.3" r="3.45" fill="#000"/>
<circle cx="83.8" cy="334.5" r="3.45" fill="#000"/>
<circle cx="87.1" cy="338.6" r="3.45" fill="#000"/>
<circle cx="73.6" cy="342.3" r="3.45" fill="#000"/>
<circle cx="76.6" cy="352.7" r="3.45" fill="#000"/>
<circle cx="93.9" cy="354" r="3.45" fill="#000"/>
<circle cx="111.2" cy="351.5" r="3.45" fill="#000"/>
<circle cx="80.3" cy="360.7" r="3.45" fill="#000"/>
<circle cx="87.1" cy="362.6" r="3.45" fill="#000"/>
<circle cx="80.3" cy="368.8" r="3.45" fill="#000"/>
<circle cx="83.4" cy="373.7" r="3.45" fill="#000"/>
<circle cx="87.1" cy="375.5" r="3.45" fill="#000"/>
<circle cx="116.1" cy="379.5" r="3.45" fill="#000"/>
<circle cx="119.2" cy="382.5" r="3.45" fill="#000"/>
<circle cx="80.3" cy="391" r="3.45" fill="#000"/>
<circle cx="73.6" cy="399" r="3.45" fill="#000"/>
<circle cx="77.3" cy="397.8" r="3.45" fill="#000"/>
<circle cx="87.1" cy="400.6" r="3.45" fill="#000"/>
<circle cx="111.2" cy="409.8" r="3.45" fill="#000"/>
<circle cx="104.4" cy="427.7" r="3.45" fill="#000"/>
<circle cx="131" cy="391.5" r="3.45" fill="#000"/>
<circle cx="134.4" cy="394.4" r="3.45" fill="#000"/>
<circle cx="186" cy="377.8" r="3.45" fill="#000"/>
<circle cx="189.8" cy="391" r="3.45" fill="#000"/>
<circle cx="185.8" cy="397.3" r="3.45" fill="#000"/>
<circle cx="186.5" cy="403.5" r="3.45" fill="#000"/>
<circle cx="216" cy="386.5" r="3.45" fill="#000"/>
<circle cx="224.2" cy="392.6" r="3.45" fill="#000"/>
<circle cx="244.5" cy="392" r="3.45" fill="#000"/>
<circle cx="235.8" cy="347.6" r="3.45" fill="#000"/>
<circle cx="235.7" cy="401.5" r="3.45" fill="#000"/>
<circle cx="233.7" cy="410.3" r="3.45" fill="#000"/>
<circle cx="235.7" cy="415.8" r="3.45" fill="#000"/>
<circle cx="254" cy="441.7" r="3.45" fill="#000"/>
<rect x="364.85" y="295.75" width="5.5" height="5.5" fill="#fff" stroke="#000" stroke-width="1.2"/>
<rect x="362.75" y="310.05" width="5.5" height="5.5" fill="#fff" stroke="#000" stroke-width="1.2"/>
<rect x="380.55" y="314.55" width="5.5" height="5.5" fill="#fff" stroke="#000" stroke-width="1.2"/>
<rect x="366.15" y="333.75" width="5.5" height="5.5" fill="#fff" stroke="#000" stroke-width="1.2"/>
<rect x="362.45" y="348.05" width="5.5" height="5.5" fill="#fff" stroke="#000" stroke-width="1.2"/>
<rect x="377.55" y="349.05" width="5.5" height="5.5" fill="#fff" stroke="#000" stroke-width="1.2"/>
<rect x="379.75" y="358.35" width="5.5" height="5.5" fill="#fff" stroke="#000" stroke-width="1.2"/>
<rect x="379.75" y="364.85" width="5.5" height="5.5" fill="#fff" stroke="#000" stroke-width="1.2"/>
<rect x="376.45" y="380.75" width="5.5" height="5.5" fill="#fff" stroke="#000" stroke-width="1.2"/>
<rect x="393.95" y="378.45" width="5.5" height="5.5" fill="#fff" stroke="#000" stroke-width="1.2"/>
<rect x="365.45" y="386.85" width="5.5" height="5.5" fill="#fff" stroke="#000" stroke-width="1.2"/>
<rect x="368.75" y="387.45" width="5.5" height="5.5" fill="#fff" stroke="#000" stroke-width="1.2"/>
<rect x="372.55" y="386.85" width="5.5" height="5.5" fill="#fff" stroke="#000" stroke-width="1.2"/>
<rect x="389.75" y="390.25" width="5.5" height="5.5" fill="#fff" stroke="#000" stroke-width="1.2"/>
<rect x="376.25" y="399.45" width="5.5" height="5.5" fill="#fff" stroke="#000" stroke-width="1.2"/>
<rect x="383.25" y="401.55" width="5.5" height="5.5" fill="#fff" stroke="#000" stroke-width="1.2"/>
<rect x="403.05" y="392.15" width="5.5" height="5.5" fill="#fff" stroke="#000" stroke-width="1.2"/>
<rect x="400.25" y="403.45" width="5.5" height="5.5" fill="#fff" stroke="#000" stroke-width="1.2"/>
<rect x="413.75" y="398.95" width="5.5" height="5.5" fill="#fff" stroke="#000" stroke-width="1.2"/>
<rect x="414.15" y="360.05" width="5.5" height="5.5" fill="#fff" stroke="#000" stroke-width="1.2"/>
<rect x="422.75" y="388.45" width="5.5" height="5.5" fill="#fff" stroke="#000" stroke-width="1.2"/>
<rect x="442.55" y="399.45" width="5.5" height="5.5" fill="#fff" stroke="#000" stroke-width="1.2"/>
<rect x="426.05" y="408.75" width="5.5" height="5.5" fill="#fff" stroke="#000" stroke-width="1.2"/>
<rect x="383.35" y="415.15" width="5.5" height="5.5" fill="#fff" stroke="#000" stroke-width="1.2"/>
<rect x="413.45" y="420.35" width="5.5" height="5.5" fill="#fff" stroke="#000" stroke-width="1.2"/>
<rect x="420.15" y="418.35" width="5.5" height="5.5" fill="#fff" stroke="#000" stroke-width="1.2"/>
<rect x="420.15" y="422.25" width="5.5" height="5.5" fill="#fff" stroke="#000" stroke-width="1.2"/>
<rect x="425.95" y="418.95" width="5.5" height="5.5" fill="#fff" stroke="#000" stroke-width="1.2"/>
<rect x="431.85" y="321.35" width="5.5" height="5.5" fill="#fff" stroke="#000" stroke-width="1.2"/>
<rect x="487.75" y="368.85" width="5.5" height="5.5" fill="#fff" stroke="#000" stroke-width="1.2"/>
<rect x="514.45" y="358.65" width="5.5" height="5.5" fill="#fff" stroke="#000" stroke-width="1.2"/>
<rect x="521.35" y="393.95" width="5.5" height="5.5" fill="#fff" stroke="#000" stroke-width="1.2"/>
<rect x="498.75" y="408.35" width="5.5" height="5.5" fill="#fff" stroke="#000" stroke-width="1.2"/>
<rect x="473.45" y="428.75" width="5.5" height="5.5" fill="#fff" stroke="#000" stroke-width="1.2"/>
<rect x="486.55" y="445.35" width="5.5" height="5.5" fill="#fff" stroke="#000" stroke-width="1.2"/>
<rect x="372.15" y="287.15" width="6.5" height="6.5" fill="#000"/>
<rect x="372.15" y="295.05" width="6.5" height="6.5" fill="#000"/>
<rect x="368.55" y="296.55" width="6.5" height="6.5" fill="#000"/>
<rect x="362.25" y="299.75" width="6.5" height="6.5" fill="#000"/>
<rect x="375.85" y="310.25" width="6.5" height="6.5" fill="#000"/>
<rect x="375.55" y="318.65" width="6.5" height="6.5" fill="#000"/>
<rect x="358.65" y="320.35" width="6.5" height="6.5" fill="#000"/>
<rect x="366.35" y="323.95" width="6.5" height="6.5" fill="#000"/>
<rect x="369.85" y="324.75" width="6.5" height="6.5" fill="#000"/>
<rect x="386.05" y="328.75" width="6.5" height="6.5" fill="#000"/>
<rect x="397.15" y="330.55" width="6.5" height="6.5" fill="#000"/>
<rect x="386.05" y="333.95" width="6.5" height="6.5" fill="#000"/>
<rect x="362.15" y="336.35" width="6.5" height="6.5" fill="#000"/>
<rect x="379.05" y="336.75" width="6.5" height="6.5" fill="#000"/>
<rect x="369.15" y="338.85" width="6.5" height="6.5" fill="#000"/>
<rect x="372.35" y="343.35" width="6.5" height="6.5" fill="#000"/>
<rect x="365.65" y="353.45" width="6.5" height="6.5" fill="#000"/>
<rect x="372.05" y="353.55" width="6.5" height="6.5" fill="#000"/>
<rect x="386.25" y="354.15" width="6.5" height="6.5" fill="#000"/>
<rect x="409.55" y="351.75" width="6.5" height="6.5" fill="#000"/>
<rect x="389.55" y="359.85" width="6.5" height="6.5" fill="#000"/>
<rect x="368.25" y="360.45" width="6.5" height="6.5" fill="#000"/>
<rect x="373.35" y="361.15" width="6.5" height="6.5" fill="#000"/>
<rect x="392.75" y="368.25" width="6.5" height="6.5" fill="#000"/>
<rect x="389.25" y="381.15" width="6.5" height="6.5" fill="#000"/>
<rect x="403.15" y="396.55" width="6.5" height="6.5" fill="#000"/>
<rect x="410.25" y="364.55" width="6.5" height="6.5" fill="#000"/>
<rect x="410.25" y="368.05" width="6.5" height="6.5" fill="#000"/>
<rect x="425.65" y="350.05" width="6.5" height="6.5" fill="#000"/>
<rect x="434.55" y="385.45" width="6.5" height="6.5" fill="#000"/>
<rect x="437.55" y="389.35" width="6.5" height="6.5" fill="#000"/>
<rect x="462.75" y="398.25" width="6.5" height="6.5" fill="#000"/>
<rect x="419.65" y="410.15" width="6.5" height="6.5" fill="#000"/>
<rect x="442.35" y="331.75" width="6.5" height="6.5" fill="#000"/>
<rect x="447.55" y="345.05" width="6.5" height="6.5" fill="#000"/>
<rect x="472.15" y="370.15" width="6.5" height="6.5" fill="#000"/>
<rect x="497.25" y="356.25" width="6.5" height="6.5" fill="#000"/>
<rect x="516.95" y="346.35" width="6.5" height="6.5" fill="#000"/>
<rect x="510.65" y="371.25" width="6.5" height="6.5" fill="#000"/>
<rect x="483.85" y="375.95" width="6.5" height="6.5" fill="#000"/>
<rect x="512.95" y="412.35" width="6.5" height="6.5" fill="#000"/>
<rect x="486.05" y="432.35" width="6.5" height="6.5" fill="#000"/>
<path d="M53 75.95 L58.49 78.18 L63.98 80.39 L69.46 82.58 L74.95 84.75 L80.44 86.89 L85.92 89 L91.41 91.08 L96.9 93.12 L102.39 95.12 L107.88 97.07 L113.36 98.97 L118.85 100.82 L124.34 102.6 L129.82 104.33 L135.31 106 L140.8 107.6 L146.29 109.15 L151.78 110.64 L157.26 112.08 L162.75 113.48 L168.24 114.83 L173.72 116.14 L179.21 117.42 L184.7 118.67 L190.19 119.9 L195.68 121.1 L201.16 122.28 L206.65 123.44 L212.14 124.59 L217.62 125.72 L223.11 126.85 L228.6 127.96 L234.09 129.06 L239.57 130.15 L245.06 131.24 L250.55 132.32 L256.04 133.39 L261.52 134.46 L267.01 135.52 L272.5 136.58" stroke="#bababa" stroke-width="1.25" fill="none"/>
<path d="M53 101.25 L58.49 102.41 L63.98 103.59 L69.46 104.79 L74.95 106.01 L80.44 107.26 L85.92 108.54 L91.41 109.85 L96.9 111.2 L102.39 112.59 L107.88 114.03 L113.36 115.52 L118.85 117.06 L124.34 118.67 L129.82 120.33 L135.31 122.05 L140.8 123.84 L146.29 125.68 L151.78 127.58 L157.26 129.53 L162.75 131.52 L168.24 133.56 L173.72 135.64 L179.21 137.75 L184.7 139.89 L190.19 142.05 L195.68 144.24 L201.16 146.45 L206.65 148.68 L212.14 150.92 L217.62 153.18 L223.11 155.44 L228.6 157.72 L234.09 160.01 L239.57 162.31 L245.06 164.61 L250.55 166.92 L256.04 169.24 L261.52 171.56 L267.01 173.89 L272.5 176.22" stroke="#bababa" stroke-width="1.25" fill="none"/>
<path d="M53 104.66 L58.49 105.69 L63.98 106.69 L69.46 107.67 L74.95 108.62 L80.44 109.54 L85.92 110.41 L91.41 111.24 L96.9 112.02 L102.39 112.73 L107.88 113.37 L113.36 113.93 L118.85 114.4 L124.34 114.77 L129.82 115.04 L135.31 115.21 L140.8 115.28 L146.29 115.25 L151.78 115.13 L157.26 114.93 L162.75 114.66 L168.24 114.32 L173.72 113.93 L179.21 113.49 L184.7 113.02 L190.19 112.5 L195.68 111.96 L201.16 111.39 L206.65 110.8 L212.14 110.2 L217.62 109.57 L223.11 108.93 L228.6 108.28 L234.09 107.62 L239.57 106.95 L245.06 106.27 L250.55 105.58 L256.04 104.89 L261.52 104.19 L267.01 103.48 L272.5 102.77" stroke="#bababa" stroke-width="1.25" fill="none" stroke-dasharray="5.5 4.5"/>
<path d="M53 138.34 L58.49 137.75 L63.98 137.18 L69.46 136.63 L74.95 136.12 L80.44 135.64 L85.92 135.2 L91.41 134.8 L96.9 134.46 L102.39 134.19 L107.88 133.98 L113.36 133.86 L118.85 133.82 L124.34 133.88 L129.82 134.05 L135.31 134.31 L140.8 134.68 L146.29 135.14 L151.78 135.7 L157.26 136.33 L162.75 137.04 L168.24 137.81 L173.72 138.64 L179.21 139.51 L184.7 140.42 L190.19 141.37 L195.68 142.35 L201.16 143.35 L206.65 144.38 L212.14 145.42 L217.62 146.48 L223.11 147.55 L228.6 148.64 L234.09 149.74 L239.57 150.84 L245.06 151.96 L250.55 153.08 L256.04 154.21 L261.52 155.34 L267.01 156.48 L272.5 157.63" stroke="#bababa" stroke-width="1.25" fill="none" stroke-dasharray="5.5 4.5"/>
<path d="M53 121.5 L272.5 130.2" stroke="#111" stroke-width="1.3" fill="none" stroke-dasharray="6 3"/>
<path d="M53 88.6 L272.5 156.4" stroke="#111" stroke-width="1.45" fill="none"/>
<path d="M342 115.46 L347.46 117.08 L352.93 118.68 L358.39 120.27 L363.85 121.85 L369.31 123.41 L374.77 124.94 L380.24 126.45 L385.7 127.92 L391.16 129.36 L396.62 130.75 L402.09 132.08 L407.55 133.35 L413.01 134.55 L418.48 135.67 L423.94 136.72 L429.4 137.68 L434.86 138.58 L440.32 139.4 L445.79 140.17 L451.25 140.89 L456.71 141.56 L462.18 142.2 L467.64 142.8 L473.1 143.38 L478.56 143.94 L484.02 144.48 L489.49 145.01 L494.95 145.52 L500.41 146.02 L505.88 146.51 L511.34 147 L516.8 147.48 L522.26 147.95 L527.73 148.42 L533.19 148.88 L538.65 149.34 L544.11 149.8 L549.58 150.25 L555.04 150.7 L560.5 151.15" stroke="#bababa" stroke-width="1.25" fill="none"/>
<path d="M342 136.74 L347.46 137.25 L352.93 137.77 L358.39 138.3 L363.85 138.85 L369.31 139.42 L374.77 140.01 L380.24 140.62 L385.7 141.28 L391.16 141.97 L396.62 142.7 L402.09 143.5 L407.55 144.35 L413.01 145.28 L418.48 146.28 L423.94 147.36 L429.4 148.52 L434.86 149.75 L440.32 151.05 L445.79 152.4 L451.25 153.81 L456.71 155.27 L462.18 156.75 L467.64 158.27 L473.1 159.82 L478.56 161.39 L484.02 162.97 L489.49 164.57 L494.95 166.18 L500.41 167.8 L505.88 169.44 L511.34 171.07 L516.8 172.72 L522.26 174.37 L527.73 176.03 L533.19 177.69 L538.65 179.36 L544.11 181.02 L549.58 182.7 L555.04 184.37 L560.5 186.05" stroke="#bababa" stroke-width="1.25" fill="none"/>
<path d="M342 140.68 L347.46 141.89 L352.93 143.09 L358.39 144.26 L363.85 145.41 L369.31 146.53 L374.77 147.62 L380.24 148.67 L385.7 149.68 L391.16 150.65 L396.62 151.58 L402.09 152.46 L407.55 153.28 L413.01 154.06 L418.48 154.8 L423.94 155.48 L429.4 156.11 L434.86 156.7 L440.32 157.25 L445.79 157.76 L451.25 158.23 L456.71 158.68 L462.18 159.09 L467.64 159.48 L473.1 159.85 L478.56 160.19 L484.02 160.52 L489.49 160.83 L494.95 161.13 L500.41 161.42 L505.88 161.69 L511.34 161.96 L516.8 162.21 L522.26 162.46 L527.73 162.7 L533.19 162.94 L538.65 163.16 L544.11 163.39 L549.58 163.61 L555.04 163.82 L560.5 164.03" stroke="#bababa" stroke-width="1.25" fill="none" stroke-dasharray="5.5 4.5"/>
<path d="M342 163.12 L347.46 163.47 L352.93 163.84 L358.39 164.23 L363.85 164.65 L369.31 165.1 L374.77 165.57 L380.24 166.09 L385.7 166.64 L391.16 167.23 L396.62 167.87 L402.09 168.56 L407.55 169.3 L413.01 170.08 L418.48 170.91 L423.94 171.8 L429.4 172.73 L434.86 173.7 L440.32 174.72 L445.79 175.78 L451.25 176.87 L456.71 177.99 L462.18 179.14 L467.64 180.31 L473.1 181.51 L478.56 182.73 L484.02 183.97 L489.49 185.22 L494.95 186.49 L500.41 187.77 L505.88 189.06 L511.34 190.36 L516.8 191.67 L522.26 192.98 L527.73 194.31 L533.19 195.64 L538.65 196.98 L544.11 198.32 L549.58 199.66 L555.04 201.02 L560.5 202.37" stroke="#bababa" stroke-width="1.25" fill="none" stroke-dasharray="5.5 4.5"/>
<path d="M342 151.9 L560.5 183.2" stroke="#111" stroke-width="1.3" fill="none" stroke-dasharray="6 3"/>
<path d="M342 126.1 L560.5 168.6" stroke="#111" stroke-width="1.45" fill="none"/>
<path d="M53.3 331.76 L58.43 333.99 L63.56 336.21 L68.69 338.42 L73.82 340.6 L78.95 342.76 L84.08 344.89 L89.21 346.98 L94.34 349.04 L99.47 351.06 L104.6 353.03 L109.73 354.95 L114.86 356.8 L119.99 358.6 L125.12 360.33 L130.25 362 L135.38 363.61 L140.51 365.15 L145.64 366.64 L150.77 368.07 L155.9 369.46 L161.03 370.8 L166.16 372.11 L171.29 373.38 L176.42 374.63 L181.55 375.85 L186.68 377.05 L191.81 378.23 L196.94 379.4 L202.07 380.55 L207.2 381.7 L212.33 382.83 L217.46 383.95 L222.59 385.06 L227.72 386.17 L232.85 387.27 L237.98 388.36 L243.11 389.45 L248.24 390.54 L253.37 391.62 L258.5 392.7" stroke="#bababa" stroke-width="1.25" fill="none"/>
<path d="M53.3 355.24 L58.43 356.41 L63.56 357.6 L68.69 358.8 L73.82 360.02 L78.95 361.27 L84.08 362.54 L89.21 363.85 L94.34 365.2 L99.47 366.59 L104.6 368.02 L109.73 369.51 L114.86 371.06 L119.99 372.66 L125.12 374.34 L130.25 376.07 L135.38 377.87 L140.51 379.73 L145.64 381.65 L150.77 383.62 L155.9 385.64 L161.03 387.71 L166.16 389.8 L171.29 391.93 L176.42 394.09 L181.55 396.28 L186.68 398.48 L191.81 400.7 L196.94 402.94 L202.07 405.19 L207.2 407.45 L212.33 409.73 L217.46 412.01 L222.59 414.3 L227.72 416.6 L232.85 418.91 L237.98 421.22 L243.11 423.53 L248.24 425.85 L253.37 428.18 L258.5 430.5" stroke="#bababa" stroke-width="1.25" fill="none"/>
<path d="M53.3 359.54 L58.43 360.59 L63.56 361.61 L68.69 362.62 L73.82 363.61 L78.95 364.57 L84.08 365.5 L89.21 366.41 L94.34 367.28 L99.47 368.12 L104.6 368.92 L109.73 369.68 L114.86 370.4 L119.99 371.08 L125.12 371.7 L130.25 372.29 L135.38 372.83 L140.51 373.32 L145.64 373.77 L150.77 374.19 L155.9 374.56 L161.03 374.9 L166.16 375.21 L171.29 375.49 L176.42 375.74 L181.55 375.97 L186.68 376.17 L191.81 376.36 L196.94 376.53 L202.07 376.69 L207.2 376.83 L212.33 376.95 L217.46 377.07 L222.59 377.18 L227.72 377.28 L232.85 377.37 L237.98 377.45 L243.11 377.52 L248.24 377.59 L253.37 377.66 L258.5 377.72" stroke="#bababa" stroke-width="1.25" fill="none" stroke-dasharray="5.5 4.5"/>
<path d="M53.3 383.86 L58.43 384.03 L63.56 384.22 L68.69 384.42 L73.82 384.65 L78.95 384.91 L84.08 385.19 L89.21 385.5 L94.34 385.84 L99.47 386.21 L104.6 386.63 L109.73 387.08 L114.86 387.58 L119.99 388.12 L125.12 388.71 L130.25 389.34 L135.38 390.01 L140.51 390.73 L145.64 391.5 L150.77 392.3 L155.9 393.14 L161.03 394.01 L166.16 394.92 L171.29 395.86 L176.42 396.82 L181.55 397.81 L186.68 398.82 L191.81 399.84 L196.94 400.89 L202.07 401.95 L207.2 403.02 L212.33 404.11 L217.46 405.21 L222.59 406.32 L227.72 407.43 L232.85 408.56 L237.98 409.69 L243.11 410.83 L248.24 411.98 L253.37 413.13 L258.5 414.28" stroke="#bababa" stroke-width="1.25" fill="none" stroke-dasharray="5.5 4.5"/>
<path d="M53.3 371.7 L258.5 396" stroke="#111" stroke-width="1.3" fill="none" stroke-dasharray="6 3"/>
<path d="M53.3 343.5 L258.5 411.6" stroke="#111" stroke-width="1.45" fill="none"/>
<path d="M342 311.38 L347.12 314.22 L352.24 317.03 L357.36 319.82 L362.48 322.58 L367.6 325.31 L372.72 328 L377.84 330.64 L382.96 333.23 L388.08 335.75 L393.2 338.19 L398.32 340.56 L403.44 342.83 L408.56 345 L413.68 347.07 L418.8 349.04 L423.92 350.91 L429.04 352.7 L434.16 354.4 L439.28 356.04 L444.4 357.61 L449.52 359.13 L454.64 360.61 L459.76 362.05 L464.88 363.46 L470 364.85 L475.12 366.21 L480.24 367.55 L485.36 368.88 L490.48 370.19 L495.6 371.49 L500.72 372.78 L505.84 374.06 L510.96 375.33 L516.08 376.6 L521.2 377.86 L526.32 379.11 L531.44 380.36 L536.56 381.61 L541.68 382.85 L546.8 384.08" stroke="#bababa" stroke-width="1.25" fill="none"/>
<path d="M342 340.22 L347.12 341.57 L352.24 342.94 L357.36 344.33 L362.48 345.76 L367.6 347.21 L372.72 348.71 L377.84 350.25 L382.96 351.85 L388.08 353.52 L393.2 355.26 L398.32 357.08 L403.44 358.99 L408.56 361.01 L413.68 363.12 L418.8 365.34 L423.92 367.65 L429.04 370.05 L434.16 372.53 L439.28 375.08 L444.4 377.69 L449.52 380.35 L454.64 383.06 L459.76 385.8 L464.88 388.58 L470 391.38 L475.12 394.2 L480.24 397.04 L485.36 399.9 L490.48 402.77 L495.6 405.66 L500.72 408.55 L505.84 411.46 L510.96 414.37 L516.08 417.29 L521.2 420.22 L526.32 423.15 L531.44 426.08 L536.56 429.02 L541.68 431.97 L546.8 434.92" stroke="#bababa" stroke-width="1.25" fill="none"/>
<path d="M342 345.3 L347.12 347.7 L352.24 350.07 L357.36 352.42 L362.48 354.73 L367.6 356.99 L372.72 359.21 L377.84 361.36 L382.96 363.45 L388.08 365.45 L393.2 367.36 L398.32 369.15 L403.44 370.83 L408.56 372.38 L413.68 373.8 L418.8 375.08 L423.92 376.24 L429.04 377.28 L434.16 378.22 L439.28 379.07 L444.4 379.85 L449.52 380.55 L454.64 381.2 L459.76 381.81 L464.88 382.37 L470 382.91 L475.12 383.41 L480.24 383.89 L485.36 384.35 L490.48 384.79 L495.6 385.22 L500.72 385.63 L505.84 386.04 L510.96 386.43 L516.08 386.81 L521.2 387.19 L526.32 387.56 L531.44 387.92 L536.56 388.28 L541.68 388.64 L546.8 388.99" stroke="#bababa" stroke-width="1.25" fill="none" stroke-dasharray="5.5 4.5"/>
<path d="M342 381.9 L347.12 382.39 L352.24 382.91 L357.36 383.45 L362.48 384.03 L367.6 384.66 L372.72 385.33 L377.84 386.07 L382.96 386.87 L388.08 387.76 L393.2 388.74 L398.32 389.84 L403.44 391.05 L408.56 392.39 L413.68 393.86 L418.8 395.47 L423.92 397.2 L429.04 399.05 L434.16 401 L439.28 403.04 L444.4 405.15 L449.52 407.34 L454.64 409.58 L459.76 411.86 L464.88 414.19 L470 416.54 L475.12 418.93 L480.24 421.34 L485.36 423.77 L490.48 426.22 L495.6 428.68 L500.72 431.16 L505.84 433.64 L510.96 436.14 L516.08 438.65 L521.2 441.16 L526.32 443.68 L531.44 446.21 L536.56 448.74 L541.68 451.27 L546.8 453.81" stroke="#bababa" stroke-width="1.25" fill="none" stroke-dasharray="5.5 4.5"/>
<path d="M342 363.6 L546.8 421.4" stroke="#111" stroke-width="1.3" fill="none" stroke-dasharray="6 3"/>
<path d="M342 325.8 L546.8 409.5" stroke="#111" stroke-width="1.45" fill="none"/>
</svg></body></html>
